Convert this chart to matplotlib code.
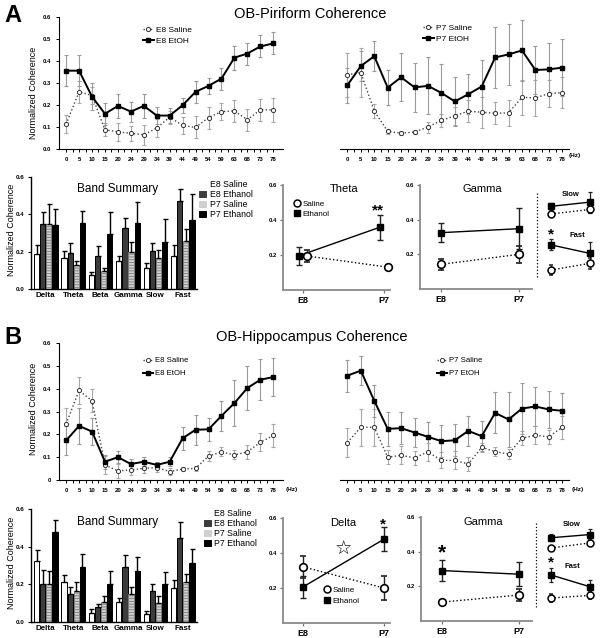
import matplotlib
matplotlib.use("Agg")
import matplotlib.pyplot as plt
import numpy as np
from matplotlib.lines import Line2D
from matplotlib.patches import Patch

plt.rcParams['font.family'] = ['Liberation Sans', 'DejaVu Sans']
plt.rcParams['hatch.linewidth'] = 0.6

W, H = 603, 638

freqs = ["0", "5", "10", "15", "20", "24", "29", "34", "39", "44",
         "49", "54", "59", "63", "68", "73", "78"]

# ---- A: OB-Piriform, coherence spectra ----
a_e8_sal = [0.113, 0.260, 0.243, 0.087, 0.078, 0.071, 0.065, 0.095, 0.145, 0.107,
            0.098, 0.143, 0.170, 0.173, 0.133, 0.178, 0.178]
a_e8_sal_err = [0.040, 0.050, 0.040, 0.030, 0.040, 0.035, 0.045, 0.040, 0.030, 0.040,
                0.050, 0.050, 0.040, 0.050, 0.050, 0.050, 0.055]
a_e8_eto = [0.356, 0.356, 0.238, 0.160, 0.196, 0.170, 0.196, 0.152, 0.152, 0.199,
            0.260, 0.287, 0.320, 0.415, 0.434, 0.466, 0.480]
a_e8_eto_err = [0.070, 0.070, 0.060, 0.050, 0.055, 0.045, 0.055, 0.040, 0.035, 0.035,
                0.050, 0.035, 0.050, 0.055, 0.050, 0.050, 0.050]
a_p7_sal = [0.338, 0.347, 0.173, 0.080, 0.072, 0.077, 0.100, 0.130, 0.151, 0.172,
            0.167, 0.163, 0.164, 0.235, 0.232, 0.252, 0.256]
a_p7_sal_err = [0.100, 0.110, 0.030, 0.010, 0.010, 0.010, 0.025, 0.030, 0.040, 0.050,
                0.070, 0.050, 0.060, 0.080, 0.080, 0.060, 0.070]
a_p7_eto = [0.290, 0.377, 0.422, 0.279, 0.326, 0.280, 0.287, 0.255, 0.216, 0.249,
            0.284, 0.416, 0.430, 0.448, 0.359, 0.362, 0.370]
a_p7_eto_err = [0.080, 0.070, 0.068, 0.080, 0.110, 0.110, 0.130, 0.130, 0.110, 0.090,
                0.120, 0.140, 0.140, 0.140, 0.110, 0.120, 0.130]

# ---- B: OB-Hippocampus, coherence spectra ----
b_e8_sal = [0.246, 0.392, 0.347, 0.066, 0.040, 0.044, 0.051, 0.054, 0.037, 0.048,
            0.051, 0.105, 0.123, 0.110, 0.123, 0.165, 0.195]
b_e8_sal_err = [0.070, 0.060, 0.050, 0.040, 0.030, 0.020, 0.020, 0.020, 0.015, 0.010,
                0.010, 0.020, 0.020, 0.020, 0.030, 0.040, 0.050]
b_e8_eto = [0.173, 0.237, 0.212, 0.080, 0.100, 0.070, 0.080, 0.066, 0.080, 0.183,
            0.220, 0.222, 0.281, 0.337, 0.403, 0.439, 0.451]
b_e8_eto_err = [0.065, 0.080, 0.060, 0.030, 0.025, 0.020, 0.020, 0.015, 0.020, 0.050,
                0.065, 0.050, 0.065, 0.100, 0.095, 0.090, 0.085]
b_p7_sal = [0.164, 0.231, 0.231, 0.100, 0.108, 0.097, 0.123, 0.086, 0.086, 0.070,
            0.143, 0.124, 0.114, 0.183, 0.196, 0.189, 0.231]
b_p7_sal_err = [0.065, 0.080, 0.080, 0.030, 0.040, 0.030, 0.040, 0.035, 0.040, 0.030,
                0.020, 0.020, 0.020, 0.030, 0.040, 0.030, 0.050]
b_p7_eto = [0.457, 0.479, 0.347, 0.224, 0.227, 0.208, 0.189, 0.170, 0.174, 0.215,
            0.192, 0.294, 0.265, 0.313, 0.322, 0.309, 0.303]
b_p7_eto_err = [0.070, 0.065, 0.070, 0.075, 0.070, 0.065, 0.065, 0.070, 0.070, 0.065,
                0.065, 0.090, 0.120, 0.110, 0.085, 0.080, 0.080]

# ---- band summaries ----
bands = ["Delta", "Theta", "Beta", "Gamma", "Slow", "Fast"]
groups = ["E8 Saline", "E8 Ethanol", "P7 Saline", "P7 Ethanol"]

a_band_e8_sal = [0.188, 0.165, 0.076, 0.149, 0.115, 0.179]
a_band_e8_sal_err = [0.046, 0.040, 0.015, 0.027, 0.025, 0.057]
a_band_e8_eto = [0.350, 0.195, 0.177, 0.329, 0.204, 0.471]
a_band_e8_eto_err = [0.065, 0.050, 0.053, 0.050, 0.040, 0.065]
a_band_p7_sal = [0.347, 0.129, 0.094, 0.200, 0.168, 0.257]
a_band_p7_sal_err = [0.110, 0.020, 0.020, 0.050, 0.040, 0.065]
a_band_p7_eto = [0.345, 0.354, 0.292, 0.354, 0.253, 0.372]
a_band_p7_eto_err = [0.085, 0.065, 0.120, 0.113, 0.123, 0.135]

b_band_e8_sal = [0.325, 0.210, 0.048, 0.108, 0.044, 0.180]
b_band_e8_sal_err = [0.058, 0.037, 0.020, 0.020, 0.013, 0.045]
b_band_e8_eto = [0.204, 0.147, 0.080, 0.293, 0.163, 0.448]
b_band_e8_eto_err = [0.070, 0.040, 0.015, 0.065, 0.040, 0.085]
b_band_p7_sal = [0.200, 0.165, 0.105, 0.151, 0.103, 0.210]
b_band_p7_sal_err = [0.070, 0.050, 0.035, 0.035, 0.035, 0.045]
b_band_p7_eto = [0.476, 0.290, 0.200, 0.270, 0.200, 0.311]
b_band_p7_eto_err = [0.065, 0.070, 0.070, 0.075, 0.068, 0.077]

# ---- age comparisons ----
ages = ["E8", "P7"]
a_theta_sal = [0.194, 0.130]
a_theta_sal_err = [0.035, 0.015]
a_theta_eto = [0.195, 0.358]
a_theta_eto_err = [0.050, 0.070]
a_gamma_sal = [0.142, 0.200]
a_gamma_sal_err = [0.030, 0.050]
a_gamma_eto = [0.325, 0.348]
a_gamma_eto_err = [0.055, 0.120]

b_delta_sal = [0.321, 0.200]
b_delta_sal_err = [0.064, 0.070]
b_delta_eto = [0.206, 0.479]
b_delta_eto_err = [0.065, 0.067]
b_gamma_sal = [0.109, 0.150]
b_gamma_sal_err = [0.010, 0.035]
b_gamma_eto = [0.291, 0.270]
b_gamma_eto_err = [0.060, 0.070]


fig = plt.figure(figsize=(W / 100, H / 100), dpi=100)


def px_axes(x0, y0, x1, y1):
    return fig.add_axes([x0 / W, 1 - y1 / H, (x1 - x0) / W, (y1 - y0) / H])


def ftext(x, y, s, **kw):
    fig.text(x / W, 1 - y / H, s, ha='center', va='center', **kw)


def px_legend(ax, handles, labels, x, y_top, fs, **kw):
    ax.legend(handles, labels, loc='upper left', bbox_to_anchor=(x / W, 1 - y_top / H),
              bbox_transform=fig.transFigure, frameon=False, fontsize=fs,
              borderpad=0, borderaxespad=0, **kw)


def spectrum_panel(ax, sal, sal_err, eto, eto_err, left_axis, ylabels, xmax):
    x = np.arange(len(freqs))
    ax.errorbar(x, sal, yerr=sal_err, fmt='none', ecolor='#a8a8a8', elinewidth=0.8,
                capsize=1.5, capthick=0.8, zorder=1, clip_on=False)
    ax.errorbar(x, eto, yerr=eto_err, fmt='none', ecolor='#9a9a9a', elinewidth=0.8,
                capsize=1.5, capthick=0.8, zorder=1, clip_on=False)
    ax.plot(x, sal, ls=':', color='#444444', lw=1, marker='o', ms=3, mfc='white',
            mec='#333333', mew=0.7, zorder=3, clip_on=False)
    ax.plot(x, eto, ls='-', color='black', lw=1.4, marker='s', ms=3.5, zorder=4,
            clip_on=False)
    ax.set_xlim(-0.55, xmax)
    ax.set_ylim(0, 0.6)
    ax.set_xticks(x)
    ax.set_xticks(x[:-1] + 0.5, minor=True)
    ax.set_xticklabels(freqs, fontsize=4.3, fontweight='bold')
    ax.tick_params(axis='x', which='both', length=2.5, width=0.7, pad=3)
    for s in ['top', 'right']:
        ax.spines[s].set_visible(False)
    ax.spines['bottom'].set_linewidth(0.8)
    if left_axis:
        ax.spines['left'].set_linewidth(0.8)
        ax.set_yticks(np.arange(0, 0.61, 0.1))
        ax.set_yticklabels(ylabels, fontsize=4.3, fontweight='bold')
        ax.tick_params(axis='y', length=2.5, width=0.7, pad=3)
    else:
        ax.spines['left'].set_visible(False)
        ax.set_yticks([])
    handles = [Line2D([], [], ls=':', color='#444444', lw=1, marker='o', ms=3,
                      mfc='white', mec='#333333', mew=0.7),
               Line2D([], [], ls='-', color='black', lw=1.4, marker='s', ms=3.5)]
    return handles


def band_panel(ax, vals, errs):
    x = np.arange(len(bands))
    offs = [-0.335, -0.112, 0.112, 0.335]
    styles = [dict(color='white', edgecolor='black'),
              dict(color='#3c3c3c', edgecolor='black'),
              dict(color='#cfcfcf', edgecolor='#7a7a7a', hatch='------'),
              dict(color='black', edgecolor='black')]
    handles = []
    for off, v, e, st in zip(offs, vals, errs, styles):
        ax.bar(x + off, v, width=0.19, yerr=[np.zeros(len(e)), e], lw=0.7,
               error_kw=dict(elinewidth=1.0, ecolor='black', capsize=1.8, capthick=1.0),
               **st)
        handles.append(Patch(lw=0.7, **st))
    ax.set_xlim(-0.54, 5.52)
    ax.set_ylim(0, 0.6)
    ax.set_xticks(x)
    ax.set_xticklabels(bands, fontsize=5.8, fontweight='bold')
    ax.tick_params(axis='x', length=0, pad=2)
    ax.set_yticks([0, 0.2, 0.4, 0.6])
    ax.set_yticklabels(["0.0", "0.2", "0.4", "0.6"], fontsize=4.5, fontweight='bold')
    ax.tick_params(axis='y', length=2.5, width=0.8, pad=2)
    for s in ['top', 'right']:
        ax.spines[s].set_visible(False)
    for s in ['left', 'bottom']:
        ax.spines[s].set_linewidth(1.0)
    return handles


def age_panel(ax, sal, sal_err, eto, eto_err, dodge, xlim):
    x = np.arange(len(ages))
    ax.plot(x - dodge, eto, ls='-', color='black', lw=1.0, zorder=2, clip_on=False)
    ax.plot(x + dodge, sal, ls=':', color='black', lw=1.0, zorder=2, clip_on=False)
    ax.errorbar(x - dodge, eto, yerr=eto_err, fmt='s', ms=5, color='black',
                ecolor='#222222', elinewidth=1.0, capsize=2, capthick=1.0, zorder=3,
                clip_on=False)
    ax.errorbar(x + dodge, sal, yerr=sal_err, fmt='o', ms=5.5, mfc='white',
                mec='black', mew=1.2, ecolor='#222222', elinewidth=1.0, capsize=2,
                capthick=1.0, zorder=4, clip_on=False)
    ax.set_xlim(*xlim)
    ax.set_ylim(0, 0.6)
    ax.set_xticks(x)
    ax.set_xticklabels(ages, fontsize=6.5, fontweight='bold')
    ax.set_yticks([0.2, 0.4, 0.6])
    ax.set_yticklabels(["0.2", "0.4", "0.6"], fontsize=4.3, fontweight='bold')
    ax.tick_params(axis='both', length=2.5, width=0.9, color='#777777', pad=2)
    for s in ['top', 'right']:
        ax.spines[s].set_visible(False)
    for s in ['left', 'bottom']:
        ax.spines[s].set_linewidth(1.3)
        ax.spines[s].set_color('#8a8a8a')


def inset_panel(ax, sal, sal_err, eto, eto_err, ylim):
    x = np.arange(2)
    ax.plot(x, eto, ls='-', color='black', lw=1.0, zorder=2)
    ax.plot(x, sal, ls=':', color='black', lw=1.0, zorder=2)
    ax.errorbar(x, eto, yerr=eto_err, fmt='s', ms=4.5, color='black', ecolor='#222222',
                elinewidth=0.9, capsize=1.5, capthick=0.9, zorder=3, clip_on=False)
    ax.errorbar(x, sal, yerr=sal_err, fmt='o', ms=5, mfc='white', mec='black', mew=1.1,
                ecolor='#222222', elinewidth=0.9, capsize=1.5, capthick=0.9, zorder=4,
                clip_on=False)
    ax.set_xlim(-0.154, 1.18)
    ax.set_ylim(*ylim)
    ax.axis('off')


age_handles = [Line2D([], [], ls='none', marker='o', ms=5, mfc='white', mec='black', mew=1.1),
               Line2D([], [], ls='none', marker='s', ms=4.5, color='black')]

# ================= Panel A =================
ftext(13, 15, "A", fontsize=17, fontweight='bold')
ftext(310, 14, "OB-Piriform Coherence", fontsize=10.5)

ylab_a = ["0.0", "0.1", "0.2", "0.3", "0.4", "0.5", "0.6"]
ax = px_axes(59, 17, 283, 149)
h = spectrum_panel(ax, a_e8_sal, a_e8_sal_err, a_e8_eto, a_e8_eto_err,
                   True, ylab_a, 16.75)
px_legend(ax, h, ["E8 Saline", "E8 EtOH"], 143, 26, 6, handlelength=1.3,
          handletextpad=0.3, labelspacing=0.45)
ftext(33, 93, "Normalized Coherence", fontsize=6.5, rotation=90)

ax = px_axes(340, 17, 569, 149)
h = spectrum_panel(ax, a_p7_sal, a_p7_sal_err, a_p7_eto, a_p7_eto_err,
                   False, None, 16.5)
px_legend(ax, h, ["P7 Saline", "P7 EtOH"], 423, 24, 6, handlelength=1.3,
          handletextpad=0.3, labelspacing=0.45)
fig.text(569 / W, 1 - 156 / H, "(Hz)", fontsize=4.6, fontweight='bold', va='center')

ax = px_axes(31, 177, 197, 289)
h = band_panel(ax, [a_band_e8_sal, a_band_e8_eto, a_band_p7_sal, a_band_p7_eto],
               [a_band_e8_sal_err, a_band_e8_eto_err, a_band_p7_sal_err, a_band_p7_eto_err])
px_legend(ax, h, groups, 199, 180, 6.3, handlelength=0.8, handleheight=0.8,
          handletextpad=0.4, labelspacing=0.12)
ftext(118, 189, "Band Summary", fontsize=8.5)
ftext(12, 230, "Normalized Coherence", fontsize=6.5, rotation=90)

ax = px_axes(283, 185, 390, 290)
age_panel(ax, a_theta_sal, a_theta_sal_err, a_theta_eto, a_theta_eto_err, 0.055,
          (-0.247, 1.074))
px_legend(ax, age_handles, ["Saline", "Ethanol"], 293, 200, 5.8, handlelength=1.0,
          handletextpad=0.2, labelspacing=0.35)
ftext(344, 189, "Theta", fontsize=8)
ftext(378, 210, "**", fontsize=11, fontweight='bold')

ax = px_axes(420, 185, 532, 289)
age_panel(ax, a_gamma_sal, a_gamma_sal_err, a_gamma_eto, a_gamma_eto_err, 0.0,
          (-0.269, 1.167))
ftext(482, 189, "Gamma", fontsize=8)

fig.add_artist(Line2D([537 / W, 537 / W], [1 - 193 / H, 1 - 278 / H], ls=':',
                      color='black', lw=0.9))
ax = px_axes(545, 193, 597, 225)
inset_panel(ax, [a_band_e8_sal[4], a_band_p7_sal[4]], [a_band_e8_sal_err[4], a_band_p7_sal_err[4]],
            [a_band_e8_eto[4], a_band_p7_eto[4]], [a_band_e8_eto_err[4], a_band_p7_eto_err[4]],
            (-0.013, 0.359))
ax = px_axes(545, 235, 597, 280)
inset_panel(ax, [a_band_e8_sal[5], a_band_p7_sal[5]], [a_band_e8_sal_err[5], a_band_p7_sal_err[5]],
            [a_band_e8_eto[5], a_band_p7_eto[5]], [a_band_e8_eto_err[5], a_band_p7_eto_err[5]],
            (0.063, 0.586))
ftext(571, 195, "Slow", fontsize=5.5, fontweight='bold')
ftext(577, 236, "Fast", fontsize=5.5, fontweight='bold')
ftext(551, 234, "*", fontsize=11, fontweight='bold')

# ================= Panel B =================
ftext(13, 338, "B", fontsize=17, fontweight='bold')
ftext(312, 337, "OB-Hippocampus Coherence", fontsize=10.5)

ylab_b = ["0", "0.1", "0.2", "0.3", "0.4", "0.5", "0.6"]
ax = px_axes(59, 343, 283, 480)
h = spectrum_panel(ax, b_e8_sal, b_e8_sal_err, b_e8_eto, b_e8_eto_err,
                   True, ylab_b, 16.75)
px_legend(ax, h, ["E8 Saline", "E8 EtOH"], 143, 357, 5.6, handlelength=1.3,
          handletextpad=0.3, labelspacing=0.7)
fig.text(286 / W, 1 - 490 / H, "(Hz)", fontsize=4.6, fontweight='bold', va='center')
ftext(33, 409, "Normalized Coherence", fontsize=6.5, rotation=90)

ax = px_axes(340, 343, 569, 480)
h = spectrum_panel(ax, b_p7_sal, b_p7_sal_err, b_p7_eto, b_p7_eto_err,
                   False, None, 16.5)
px_legend(ax, h, ["P7 Saline", "P7 EtOH"], 437, 357, 5.6, handlelength=1.3,
          handletextpad=0.3, labelspacing=0.7)
fig.text(572 / W, 1 - 490 / H, "(Hz)", fontsize=4.6, fontweight='bold', va='center')

ax = px_axes(31, 509, 197, 622)
h = band_panel(ax, [b_band_e8_sal, b_band_e8_eto, b_band_p7_sal, b_band_p7_eto],
               [b_band_e8_sal_err, b_band_e8_eto_err, b_band_p7_sal_err, b_band_p7_eto_err])
px_legend(ax, h, groups, 204, 509, 6.3, handlelength=0.8, handleheight=0.8,
          handletextpad=0.4, labelspacing=0.12)
ftext(118, 522, "Band Summary", fontsize=8.5)
ftext(12, 563, "Normalized Coherence", fontsize=6.5, rotation=90)

ax = px_axes(283, 518, 390, 623)
age_panel(ax, b_delta_sal, b_delta_sal_err, b_delta_eto, b_delta_eto_err, 0.0,
          (-0.247, 1.074))
px_legend(ax, age_handles, ["Saline", "Ethanol"], 323, 586, 5.8, handlelength=1.0,
          handletextpad=0.2, labelspacing=0.45)
ftext(343, 523, "Delta", fontsize=8)
ftext(383, 524, "*", fontsize=11, fontweight='bold')
ftext(343, 549, "\u2606", fontsize=14, family=['DejaVu Sans'])

ax = px_axes(421, 517, 532, 621)
age_panel(ax, b_gamma_sal, b_gamma_sal_err, b_gamma_eto, b_gamma_eto_err, 0.0,
          (-0.269, 1.167))
ftext(483, 522, "Gamma", fontsize=8)
ftext(442, 553, "*", fontsize=15, fontweight='bold')

fig.add_artist(Line2D([536 / W, 536 / W], [1 - 523 / H, 1 - 607 / H], ls=':',
                      color='black', lw=0.9))
ax = px_axes(545, 522, 597, 556)
inset_panel(ax, [b_band_e8_sal[4], b_band_p7_sal[4]], [b_band_e8_sal_err[4], b_band_p7_sal_err[4]],
            [b_band_e8_eto[4], b_band_p7_eto[4]], [b_band_e8_eto_err[4], b_band_p7_eto_err[4]],
            (-0.049, 0.346))
ax = px_axes(545, 565, 597, 608)
inset_panel(ax, [b_band_e8_sal[5], b_band_p7_sal[5]], [b_band_e8_sal_err[5], b_band_p7_sal_err[5]],
            [b_band_e8_eto[5], b_band_p7_eto[5]], [b_band_e8_eto_err[5], b_band_p7_eto_err[5]],
            (0.064, 0.564))
ftext(572, 524, "Slow", fontsize=5.5, fontweight='bold')
ftext(572, 567, "Fast", fontsize=5.5, fontweight='bold')
ftext(551, 562, "*", fontsize=11, fontweight='bold')

fig.savefig("out.png", dpi=100, facecolor='white')
